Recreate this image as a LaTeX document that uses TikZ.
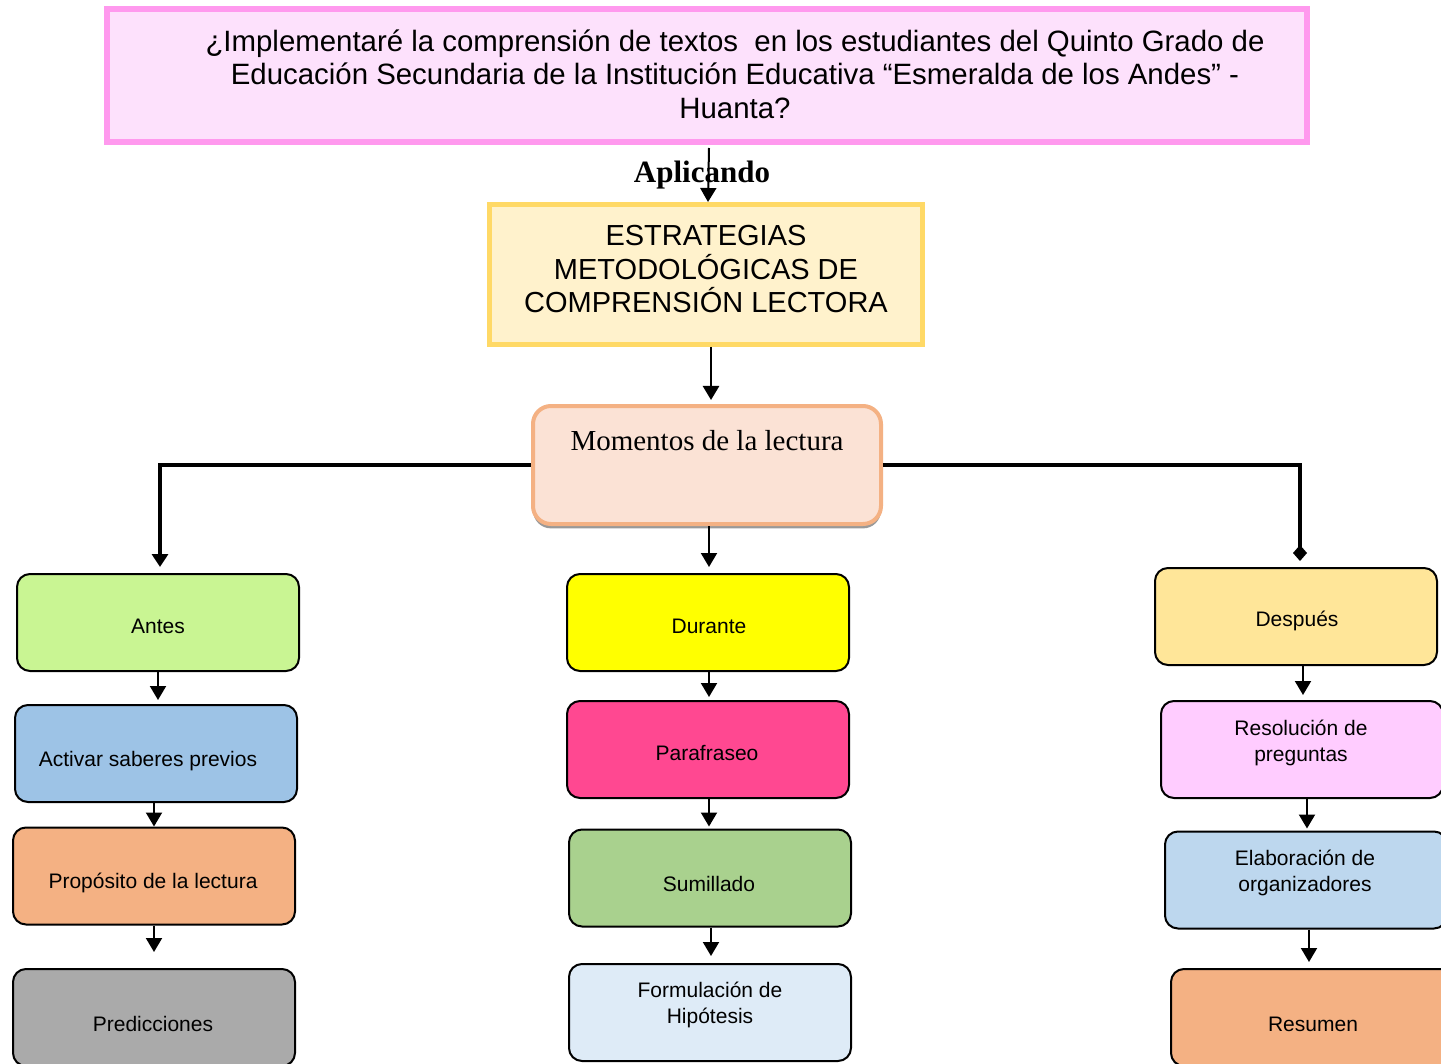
\documentclass[tikz,border=0pt]{standalone}
\usepackage{fontspec}
\setmainfont{Liberation Sans}
\newfontfamily\tnr{Liberation Serif}
\usetikzlibrary{arrows.meta,shadows}
\definecolor{topfill}{HTML}{FDE1FC}
\definecolor{topdraw}{HTML}{FF99EE}
\definecolor{estfill}{HTML}{FFF2CC}
\definecolor{estdraw}{HTML}{FFD966}
\definecolor{momfill}{HTML}{FBE2D5}
\definecolor{momdraw}{HTML}{F4B183}
\definecolor{cantes}{HTML}{C9F593}
\definecolor{cactivar}{HTML}{9DC3E6}
\definecolor{cprop}{HTML}{F4B183}
\definecolor{cpred}{HTML}{AAAAAA}
\definecolor{cdurante}{HTML}{FFFF00}
\definecolor{cpara}{HTML}{FF4891}
\definecolor{csum}{HTML}{A9D18E}
\definecolor{cform}{HTML}{DEEBF7}
\definecolor{cdesp}{HTML}{FFE699}
\definecolor{cres}{HTML}{FFCCFF}
\definecolor{celab}{HTML}{BDD7EE}
\definecolor{cresum}{HTML}{F4B183}
\begin{document}
\begin{tikzpicture}[x=0.5pt,y=-0.5pt,
  box/.style={draw=black, line width=1pt, rounded corners=6.5pt, minimum width=141pt, minimum height=48.5pt, inner sep=0pt},
  lbl/.style={font=\fontsize{10.5}{13}\selectfont, align=center, inner sep=0pt},
  arr/.style={line width=1pt, -{Triangle[width=8pt,length=7pt]}},
  thickarr/.style={line width=2pt, -{Triangle[width=8pt,length=6.5pt]}},
  diamarr/.style={line width=2pt, -{Diamond[width=7pt,length=8pt]}}]
\useasboundingbox (0,0) rectangle (1441,1064);
\clip (0,0) rectangle (1441,1064);
\fill[white] (0,0) rectangle (1441,1064);

% top question box
\node[draw=topdraw, fill=topfill, line width=3pt, minimum width=600pt, minimum height=66.5pt, inner sep=0pt] (topbox) at (707,75.5) {};
\node[font=\fontsize{14.7}{16.75}\selectfont, align=center, inner sep=0pt] (toptext) at (735,74)
  {¿Implementaré la comprensión de textos~ en los estudiantes del Quinto Grado de\\
   Educación Secundaria de la Institución Educativa “Esmeralda de los Andes” -\\
   Huanta?};

% Aplicando label (line runs over it)
\node[font=\tnr\bfseries\fontsize{15.5}{18}\selectfont, inner sep=0pt] (aplic) at (702,175) {Aplicando};

% strategies box
\node[draw=estdraw, fill=estfill, line width=2.5pt, minimum width=216.5pt, minimum height=70pt, inner sep=0pt] (estr) at (706,274.5) {};
\node[font=\fontsize{14.5}{16.75}\selectfont, align=center, inner sep=0pt] (estrtext) at (706,269.5)
  {ESTRATEGIAS\\METODOLÓGICAS DE\\COMPRENSIÓN LECTORA};

% moments box
\node[draw=momdraw, fill=momfill, line width=2pt, rounded corners=9pt, minimum width=174pt, minimum height=59pt, inner sep=0pt,
  drop shadow={shadow xshift=0pt, shadow yshift=-2.2pt, fill=black!40, opacity=1}] (mom) at (707,465) {};
\node[font=\tnr\fontsize{14.5}{17}\selectfont, inner sep=0pt] (momtext) at (707,441) {Momentos de la lectura};

% left column
\node[box, fill=cantes] (antes) at (158,622.5) {};
\node[lbl] (antesT) at (158,626) {Antes};
\node[box, fill=cactivar] (activar) at (156,753.5) {};
\node[lbl] (activarT) at (148,761) {Activar saberes previos};
\node[box, fill=cprop] (prop) at (154,876) {};
\node[lbl] (propT) at (153,883) {Propósito de la lectura};
\node[box, fill=cpred] (pred) at (154,1017.5) {};
\node[lbl] (predT) at (153,1024) {Predicciones};

% middle column
\node[box, fill=cdurante] (durante) at (708,622.5) {};
\node[lbl] (duranteT) at (709,626) {Durante};
\node[box, fill=cpara] (para) at (708,749.5) {};
\node[lbl] (paraT) at (707,753) {Parafraseo};
\node[box, fill=csum] (sum) at (710,878) {};
\node[lbl] (sumT) at (709,884) {Sumillado};
\node[box, fill=cform] (form) at (710,1012.5) {};
\node[lbl] (formT) at (710,1005) {Formulación de\\Hipótesis};

% right column
\node[box, fill=cdesp] (desp) at (1296,616.5) {};
\node[lbl] (despT) at (1297,621) {Después};
\node[box, fill=cres] (res) at (1302,749.5) {};
\node[lbl] (resT) at (1301,742.5) {Resolución de\\preguntas};
\node[box, fill=celab] (elab) at (1306,880) {};
\node[lbl] (elabT) at (1305,873) {Elaboración de\\organizadores};
\node[box, fill=cresum] (resum) at (1312,1017.5) {};
\node[lbl] (resumT) at (1313,1024) {Resumen};

% connectors
\draw[arr] ([xshift=1pt]topbox.south) ++(0,3) -- ([xshift=1pt]estr.north);
\draw[line width=1.25pt, -{Triangle[width=8pt,length=7pt]}, shorten >=2pt] ([xshift=2.5pt]estr.south) -- ([xshift=2.5pt]estr.south |- mom.north);
\draw[thickarr, shorten >=3pt] (mom.west) -| ([xshift=1pt]antes.north);
\draw[diamarr, shorten >=3pt] (mom.east) -| ([xshift=2pt]desp.north);
\draw[arr, shorten >=3pt] ([xshift=1pt]mom.south) -- ([xshift=1pt]mom.south |- durante.north);

\draw[arr, shorten >=2pt] (antes.south) -- (antes.south |- activar.north);
\draw[arr, shorten >=0pt] ([xshift=-1pt]activar.south) -- ([xshift=-1pt]activar.south |- prop.north);
\draw[arr, shorten >=8pt] (prop.south) -- (prop.south |- pred.north);

\draw[arr, shorten >=1.5pt] ([xshift=0.5pt]durante.south) -- ([xshift=0.5pt]durante.south |- para.north);
\draw[arr, shorten >=1pt] ([xshift=0.5pt]para.south) -- ([xshift=0.5pt]para.south |- sum.north);
\draw[arr, shorten >=3.5pt] ([xshift=0.5pt]sum.south) -- ([xshift=0.5pt]sum.south |- form.north);

\draw[arr, shorten >=2.5pt] ([xshift=3.5pt]desp.south) -- ([xshift=3.5pt]desp.south |- res.north);
\draw[arr, shorten >=1pt] ([xshift=2.5pt]res.south) -- ([xshift=2.5pt]res.south |- elab.north);
\draw[arr, shorten >=3pt] ([xshift=1.5pt]elab.south) -- ([xshift=1.5pt]elab.south |- resum.north);
\end{tikzpicture}
\end{document}
